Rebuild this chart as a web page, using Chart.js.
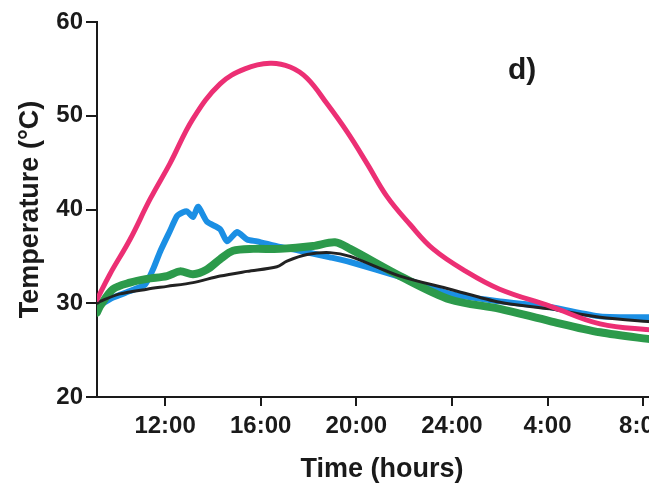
<!DOCTYPE html>
<html>
<head>
<meta charset="utf-8">
<script src="https://cdn.jsdelivr.net/npm/chart.js@4.4.1/dist/chart.umd.min.js"></script>
<style>
  body { margin: 0; overflow: hidden; background: #fff; }
  #wrap { position: relative; width: 700px; height: 489px; }
  #panel { position: absolute; left: 508px; top: 54px; font: bold 30px "Liberation Sans", Arial, sans-serif; line-height: 1; color: #1a1a1a; }
</style>
</head>
<body>
<div id="wrap">
  <canvas id="temps" width="700" height="489"></canvas>
  <div id="panel">d)</div>
</div>
<script>
// time in hours from midnight of day 1 (24+ = next morning)
const xTickHours = [12, 16, 20, 24, 28, 32];

const pinkHours = [9.15, 9.69, 10.53, 11.37, 12.2, 13.17, 14.3, 15.34, 16.39, 17.23, 17.94, 18.77, 19.61, 20.45, 21.28, 22.25, 23.21, 24.59, 26.0, 28.1, 30.2, 32.5];
const pinkTemps = [30.4, 33.1, 36.8, 41.1, 44.9, 49.7, 53.4, 55.0, 55.6, 55.2, 54.0, 51.3, 48.3, 44.9, 41.4, 38.4, 35.8, 33.4, 31.5, 29.7, 27.8, 27.1];

const blueHours = [9.15, 9.82, 10.53, 11.16, 11.49, 11.79, 12.2, 12.5, 12.75, 12.92, 13.17, 13.38, 13.75, 14.3, 14.59, 15.01, 15.43, 15.85, 16.81, 17.64, 18.9, 19.74, 21.83, 23.92, 26.01, 28.1, 30.2, 32.5];
const blueTemps = [29.6, 30.6, 31.3, 32.0, 33.6, 35.5, 37.7, 39.3, 39.7, 39.8, 39.2, 40.3, 38.7, 37.9, 36.6, 37.6, 36.8, 36.6, 36.0, 35.6, 34.9, 34.4, 32.8, 31.0, 30.2, 29.6, 28.6, 28.5];

const greenHours = [9.15, 9.28, 9.82, 10.53, 11.24, 12.08, 12.62, 13.17, 13.75, 14.3, 14.84, 15.68, 16.81, 18.19, 19.11, 19.74, 21.83, 23.92, 26.01, 28.1, 30.2, 32.5];
const greenTemps = [29.0, 29.7, 31.5, 32.2, 32.6, 32.9, 33.4, 33.1, 33.6, 34.7, 35.6, 35.8, 35.8, 36.1, 36.5, 35.8, 32.9, 30.4, 29.4, 28.1, 26.9, 26.1];

const blackHours = [9.15, 9.28, 10.11, 11.24, 12.08, 13.17, 14.3, 15.43, 16.68, 17.1, 17.94, 18.9, 19.74, 21.83, 23.92, 26.01, 28.1, 30.2, 32.5];
const blackTemps = [30.0, 30.2, 31.0, 31.5, 31.8, 32.2, 32.9, 33.4, 33.9, 34.5, 35.2, 35.4, 35.0, 32.9, 31.5, 30.1, 29.4, 28.5, 28.0];

function pts(hours, temps) {
    return hours.map((h, i) => ({x: h, y: temps[i]}));
}

const ink = '#1a1a1a';
const fam = '"Liberation Sans", Arial, sans-serif';
const tickFont = {family: fam, size: 24, weight: 'bold'};

function line(data, color, width, tension) {
    return {
        data: data,
        borderColor: color,
        borderWidth: width,
        pointRadius: 0,
        tension: tension,
        borderCapStyle: 'round',
        borderJoinStyle: 'round',
        fill: false
    };
}

const ctx = document.getElementById('temps').getContext('2d');
const chart = new Chart(ctx, {
    type: 'line',
    data: {
        // first dataset is drawn on top
        datasets: [
            line(pts(pinkHours, pinkTemps), '#ec2f74', 5, 0.4),
            line(pts(blackHours, blackTemps), '#222222', 3, 0.3),
            line(pts(greenHours, greenTemps), '#2c9a4b', 8, 0.3),
            line(pts(blueHours, blueTemps), '#1b8fe4', 6, 0.2)
        ]
    },
    options: {
        responsive: false,
        animation: false,
        layout: { padding: { top: 22, right: 33, bottom: 0, left: 0 } },
        plugins: {
            legend: { display: false },
            tooltip: { enabled: false }
        },
        scales: {
            x: {
                type: 'linear',
                min: 9.15,
                max: 33,
                afterBuildTicks: s => { s.ticks = xTickHours.map(v => ({value: v})); },
                afterFit: s => { s.height = 92; },
                ticks: {
                    callback: v => (v > 24 ? v - 24 : v) + ':00',
                    font: tickFont,
                    color: ink,
                    padding: 6,
                    maxRotation: 0,
                    autoSkip: false
                },
                grid: { display: true, drawOnChartArea: false, drawTicks: true, tickLength: 9, color: ink, lineWidth: 2 },
                border: { display: true, color: ink, width: 2 },
                title: { display: true, text: 'Time (hours)', font: {family: fam, size: 27, weight: 'bold'}, color: ink, padding: {top: 0, bottom: 3} }
            },
            y: {
                min: 20,
                max: 60,
                afterFit: s => { s.width = 97; },
                ticks: { stepSize: 10, font: tickFont, color: ink, padding: 3 },
                grid: { display: true, drawOnChartArea: false, drawTicks: true, tickLength: 11, color: ink, lineWidth: 2 },
                border: { display: true, color: ink, width: 2 },
                title: { display: true, text: 'Temperature (°C)', font: {family: fam, size: 27, weight: 'bold'}, color: ink, padding: {top: 14, bottom: 0} }
            }
        }
    }
});
</script>
</body>
</html>
